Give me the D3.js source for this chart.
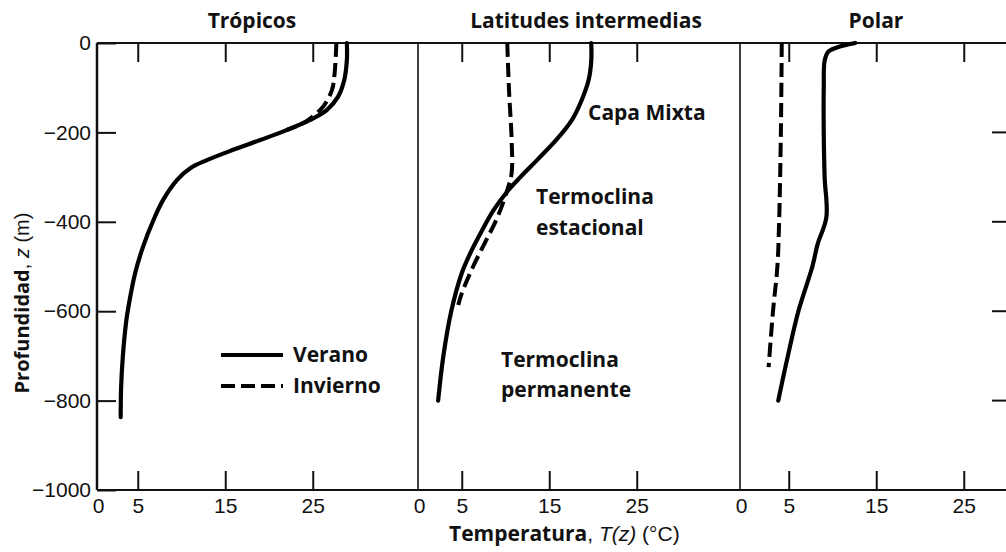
<!DOCTYPE html>
<html>
<head>
<meta charset="utf-8">
<script src="https://cdn.jsdelivr.net/npm/d3@7"></script>
<style>
  body { margin: 0; background: #fff; }
  .tick text { font-family: "Liberation Sans", Arial, sans-serif; font-size: 21px; fill: #111; }
  .bold { font-family: "Open Sans", sans-serif; font-weight: bold; fill: #111; }
</style>
</head>
<body>
<script>
// data: depth (m) and temperature (degC)
var panelTitles = ["Trópicos", "Latitudes intermedias", "Polar"];

var tropSummerZ = [0, -38, -83, -120, -150, -172, -195, -217, -239, -262, -280, -306, -351, -396, -456, -515, -567, -620, -700, -770, -837];
var tropSummerT = [28.9, 28.9, 28.6, 27.9, 26.6, 24.7, 22.0, 19.0, 15.9, 12.9, 11.0, 9.5, 7.9, 6.8, 5.6, 4.7, 4.15, 3.7, 3.3, 3.1, 3.05];
var tropWinterZ = [0, -68, -105, -142, -172, -183, -195];
var tropWinterT = [27.7, 27.5, 27.2, 26.2, 24.5, 23.5, 22.0];

var midSummerZ = [0, -40, -83, -128, -172, -217, -262, -300, -330, -375, -420, -465, -515, -600, -700, -800];
var midSummerT = [19.8, 19.8, 19.5, 18.7, 17.6, 15.8, 13.6, 11.7, 10.3, 8.6, 7.3, 6.1, 5.0, 3.8, 2.9, 2.3];
var midWinterZ = [0, -105, -217, -291, -329, -389, -441, -500, -560, -586];
var midWinterT = [10.2, 10.4, 10.7, 10.7, 10.2, 9.1, 7.8, 6.3, 5.0, 4.6];

var polSummerZ = [0, -10, -20, -40, -100, -200, -300, -390, -450, -500, -600, -700, -800];
var polSummerT = [12.6, 10.5, 9.5, 9.1, 9.0, 9.0, 9.1, 9.3, 8.3, 7.7, 6.1, 4.9, 3.8];
var polWinterZ = [0, -200, -400, -500, -600, -725];
var polWinterT = [4.2, 4.1, 3.9, 3.7, 3.2, 2.7];

var tempTicks = [0, 5, 15, 25];
var depthTicks = [0, -200, -400, -600, -800, -1000];
var legendLabels = ["Verano", "Invierno"];

function init() {
  var w = 1006, h = 552;
  var top = 43, bottom = 490;
  var tickLen = 19;

  var svg = d3.select("body").append("svg")
      .attr("width", w)
      .attr("height", h);

  var y = d3.scaleLinear().domain([0, -1000]).range([top, bottom]);

  // each panel: left border, pixel of T = 0, centre of title
  var panels = [
    { left: 97, x0: 94, mid: 252, summer: [tropSummerZ, tropSummerT], winter: [tropWinterZ, tropWinterT] },
    { left: 418, x0: 418, mid: 586, summer: [midSummerZ, midSummerT], winter: [midWinterZ, midWinterT] },
    { left: 740, x0: 745, mid: 876, summer: [polSummerZ, polSummerT], winter: [polWinterZ, polWinterT] }
  ];

  // frame
  svg.append("line").attr("x1", 97).attr("x2", w).attr("y1", top).attr("y2", top)
      .attr("stroke", "#111").attr("stroke-width", 2);
  svg.append("line").attr("x1", 97).attr("x2", w).attr("y1", bottom).attr("y2", bottom)
      .attr("stroke", "#111").attr("stroke-width", 2);

  // left depth axis
  svg.append("g")
      .attr("transform", "translate(97,0)")
      .call(d3.axisLeft(y).tickValues(depthTicks).tickSize(-tickLen).tickPadding(6).tickFormat(d3.format("d")))
      .call(function(g) {
        g.select(".domain").remove();
        g.selectAll(".tick line").attr("stroke", "#111").attr("stroke-width", 2);
      });

  // right side ticks (frame edge lies just outside the picture)
  svg.selectAll("line.rtick")
      .data(depthTicks.slice(1, -1))
      .enter().append("line")
      .attr("class", "rtick")
      .attr("x1", w - 14).attr("x2", w)
      .attr("y1", function(d) { return y(d); })
      .attr("y2", function(d) { return y(d); })
      .attr("stroke", "#111").attr("stroke-width", 2);

  var line = d3.line()
      .curve(d3.curveCatmullRom.alpha(0.5));

  panels.forEach(function(p, i) {
    var x = d3.scaleLinear().domain([0, 10]).range([p.x0, p.x0 + 87.5]);

    svg.append("line")
        .attr("x1", p.left).attr("x2", p.left)
        .attr("y1", top).attr("y2", bottom)
        .attr("stroke", "#111").attr("stroke-width", i === 0 ? 2.5 : 1.6);

    // bottom axis with labels, ticks drawn inwards
    svg.append("g")
        .attr("transform", "translate(0," + bottom + ")")
        .call(d3.axisBottom(x).tickValues(tempTicks).tickSize(-tickLen).tickPadding(8))
        .call(function(g) {
          g.select(".domain").remove();
          g.selectAll(".tick line").attr("stroke", "#111").attr("stroke-width", 2)
              .attr("opacity", function(d) { return d === 0 ? 0 : 1; });
          g.selectAll(".tick text").attr("x", function(d) { return d === 0 ? p.left - x(0) + 1 : 0; });
        });

    // top ticks
    svg.append("g")
        .attr("transform", "translate(0," + top + ")")
        .call(d3.axisTop(x).tickValues(tempTicks.slice(1)).tickSize(-tickLen).tickFormat(""))
        .call(function(g) {
          g.select(".domain").remove();
          g.selectAll(".tick line").attr("stroke", "#111").attr("stroke-width", 2);
        });

    svg.append("text")
        .attr("class", "bold")
        .attr("x", p.mid).attr("y", 28)
        .attr("text-anchor", "middle")
        .style("font-size", "21px")
        .text(panelTitles[i]);

    var s = p.summer[0].map(function(z, k) { return [x(p.summer[1][k]), y(z)]; });
    var wv = p.winter[0].map(function(z, k) { return [x(p.winter[1][k]), y(z)]; });

    svg.append("path")
        .attr("d", line(wv))
        .attr("fill", "none").attr("stroke", "#000")
        .attr("stroke-width", 4).attr("stroke-dasharray", "14,6");
    svg.append("path")
        .attr("d", line(s))
        .attr("fill", "none").attr("stroke", "#000")
        .attr("stroke-width", 4.2).attr("stroke-linecap", "round");
  });

  // annotations
  var notes = [
    ["Capa Mixta", 588, 120],
    ["Termoclina", 536, 204],
    ["estacional", 536, 235],
    ["Termoclina", 501, 367],
    ["permanente", 501, 397]
  ];
  svg.selectAll("text.note")
      .data(notes)
      .enter().append("text")
      .attr("class", "note bold")
      .attr("x", function(d) { return d[1]; })
      .attr("y", function(d) { return d[2]; })
      .style("font-size", "21px")
      .text(function(d) { return d[0]; });

  // legend
  var legend = svg.append("g").attr("transform", "translate(221,355)");
  legendLabels.forEach(function(lab, i) {
    legend.append("line")
        .attr("x1", 0).attr("x2", 62)
        .attr("y1", i * 31).attr("y2", i * 31)
        .attr("stroke", "#000").attr("stroke-width", 4)
        .attr("stroke-dasharray", i === 1 ? "14,6" : null);
    legend.append("text")
        .attr("class", "bold")
        .attr("x", 72).attr("y", i * 31 + 7)
        .style("font-size", "21px")
        .text(lab);
  });

  // axis titles
  var yt = svg.append("text")
      .attr("transform", "translate(29,303) rotate(-90)")
      .attr("text-anchor", "middle")
      .style("font-size", "20px");
  yt.append("tspan").attr("class", "bold").text("Profundidad");
  yt.append("tspan").style("font-family", "Liberation Sans, Arial, sans-serif").attr("fill", "#111").text(", ");
  yt.append("tspan").style("font-family", "Liberation Sans, Arial, sans-serif").style("font-style", "italic").attr("fill", "#111").text("z");
  yt.append("tspan").style("font-family", "Liberation Sans, Arial, sans-serif").attr("fill", "#111").text(" (m)");

  var xt = svg.append("text")
      .attr("x", 449).attr("y", 541)
      .style("font-size", "21px");
  xt.append("tspan").attr("class", "bold").text("Temperatura");
  xt.append("tspan").style("font-family", "Liberation Sans, Arial, sans-serif").attr("fill", "#111").text(", ");
  xt.append("tspan").style("font-family", "Liberation Sans, Arial, sans-serif").style("font-style", "italic").attr("fill", "#111").text("T(z)");
  xt.append("tspan").style("font-family", "Liberation Sans, Arial, sans-serif").attr("fill", "#111").text(" (°C)");
}
window.onload = init;
</script>
</body>
</html>
